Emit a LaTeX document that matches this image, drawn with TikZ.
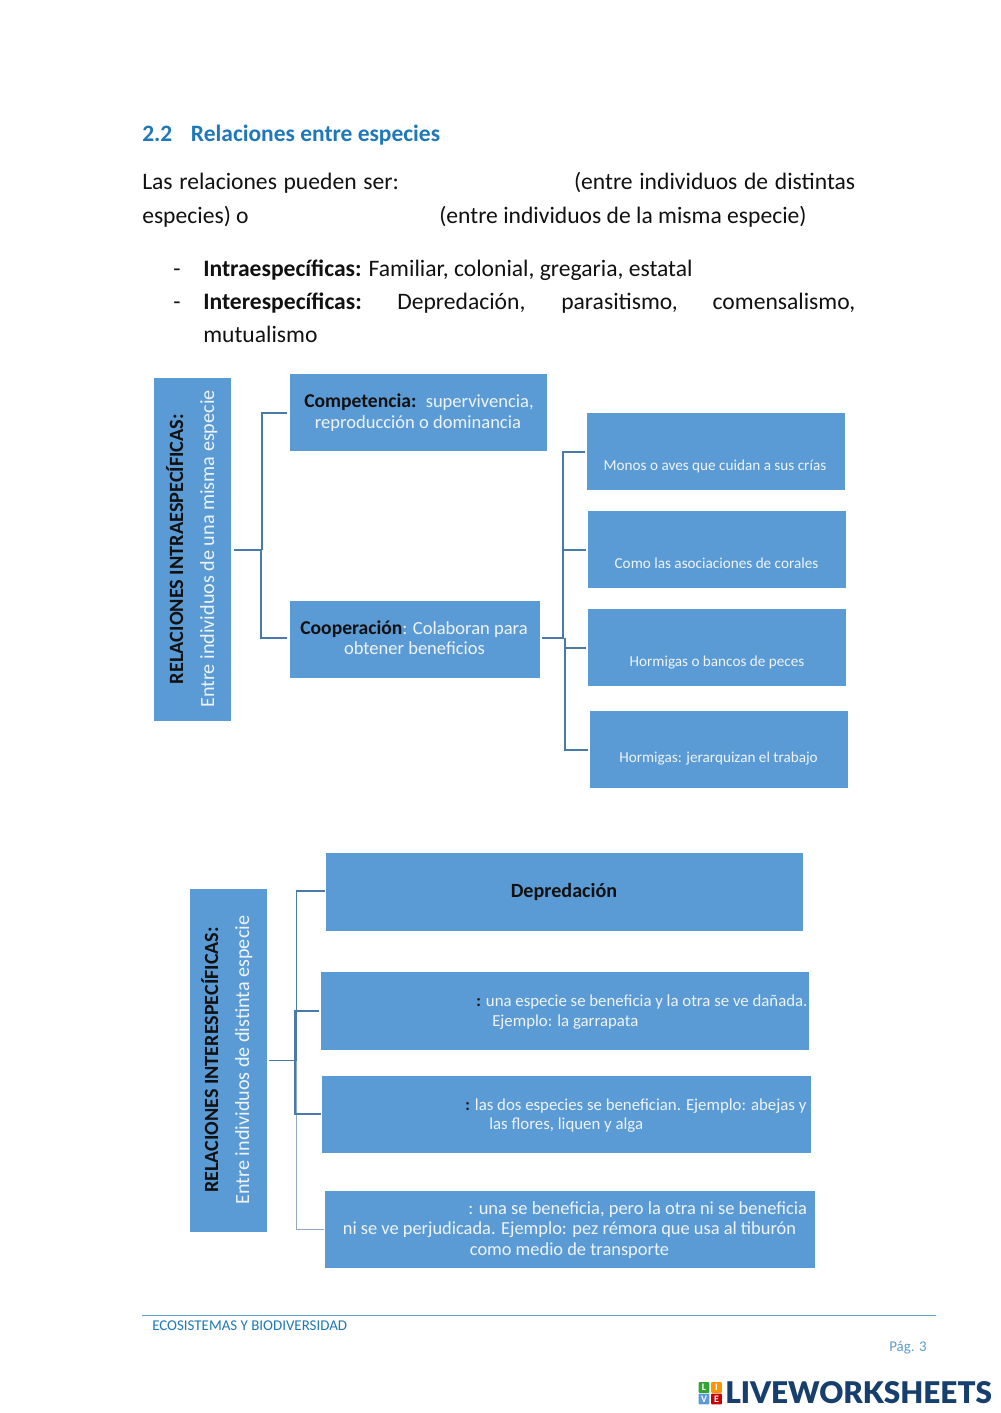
\documentclass[tikz,border=0pt]{standalone}
\usepackage{fontspec}
\setmainfont{Carlito}
\usetikzlibrary{fit}
\definecolor{boxblue}{HTML}{5B9BD5}
\definecolor{headblue}{HTML}{1F78B8}
\definecolor{linkblue}{HTML}{4A7BA8}
\definecolor{linklight}{HTML}{8FA9C4}
\definecolor{footblue}{HTML}{5E9CC9}
\definecolor{logoblue}{HTML}{163F6E}
\definecolor{boxtext}{HTML}{EEF4FA}
\definecolor{inktext}{HTML}{111111}
\newcommand{\fs}[1]{\fontsize{#1}{#1}\selectfont}
\tikzset{
  x=0.75pt,y=-0.75pt,
  bx/.style={fill=boxblue,draw=none,inner sep=0pt},
  link/.style={draw=linkblue,line width=1.5pt},
  linkthin/.style={draw=linklight,line width=1pt},
  bodytxt/.style={anchor=base west,inner sep=0pt,text=inktext,font=\fs{17.7}},
  boxtxt/.style={anchor=base,inner sep=0pt,text=boxtext,font=\fs{13.9}},
  smalltxt/.style={anchor=base,inner sep=0pt,text=boxtext,font=\fs{11.4}},
  midtxt/.style={anchor=base west,inner sep=0pt,text=boxtext,font=\fs{12.6}},
  vtxt/.style={anchor=base,inner sep=0pt,rotate=90,font=\fs{15.1}},
  logosq/.style={inner sep=0pt,minimum size=8.2pt,text=white,font=\fs{7.5}\bfseries,rounded corners=0.8pt},
}
\begin{document}
\begin{tikzpicture}
\useasboundingbox[fill=white] (0,0) rectangle (1000,1413);
% heading and body
\node[anchor=base west,inner sep=0pt,text=headblue,font=\fs{17.6}\bfseries] (head) at (142,141.7) {2.2\hspace{14pt}Relaciones entre especies};
\node[bodytxt] (t1) at (142,189.7) {\spaceskip=5pt Las relaciones pueden ser:};
\node[bodytxt,anchor=base east] (t2) at (855.5,189.7) {\spaceskip=5pt (entre individuos de distintas};
\node[bodytxt] (t3) at (142,223.7) {especies) o};
\node[bodytxt] (t4) at (439,223.7) {(entre individuos de la misma especie)};
\node[bodytxt] (d1) at (173,276.7) {-};
\node[bodytxt] (t5) at (203,276.7) {\textbf{Intraespecíficas:} Familiar, colonial, gregaria, estatal};
\node[bodytxt] (d2) at (173,309.7) {-};
\node[bodytxt] (t6) at (203,309.7) {\textbf{Interespecíficas:}};
\node[bodytxt] (t7) at (397,309.7) {Depredación,};
\node[bodytxt] (t8) at (561,309.7) {parasitismo,};
\node[bodytxt,anchor=base east] (t9) at (855.5,309.7) {comensalismo,};
\node[bodytxt] (t10) at (203,342.7) {mutualismo};
% first chart
\node[bx,fit={(154,378)(231,721)}] (intra) {};
\node[bx,fit={(290,374)(547,451)}] (comp) {};
\node[bx,fit={(290,601)(540,678)}] (coop) {};
\node[bx,fit={(587,413)(845,490)}] (monos) {};
\node[bx,fit={(588,511)(846,588)}] (como) {};
\node[bx,fit={(588,609)(846,686)}] (horm) {};
\node[bx,fit={(590,711)(848,788)}] (jer) {};
\node[vtxt,text=inktext,font=\fs{15.2}\bfseries] (intraA) at (183,549) {RELACIONES INTRAESPECÍFICAS:};
\node[vtxt,text=boxtext] (intraB) at (214,549) {Entre individuos de una misma especie};
\node[boxtxt] (compA) at (419,407.5) {\textcolor{inktext}{\fs{14.7}\textbf{Competencia:}}\hspace{7pt}supervivencia,};
\node[boxtxt] (compB) at (418,428.5) {reproducción o dominancia};
\node[boxtxt] (coopA) at (414,634.5) {\textcolor{inktext}{\fs{14.7}\textbf{Cooperación}}: Colaboran para};
\node[boxtxt] (coopB) at (414.5,654.5) {obtener beneficios};
\node[smalltxt] (monosT) at (715,470) {Monos o aves que cuidan a sus crías};
\node[smalltxt] (comoT) at (716.5,568) {Como las asociaciones de corales};
\node[smalltxt] (hormT) at (717,666) {Hormigas o bancos de peces};
\node[smalltxt] (jerT) at (718.5,762) {Hormigas: jerarquizan el trabajo};
% connectors, first chart
\draw[link] ([xshift=2.2pt]intra.east) -- ++(20.5pt,0) coordinate (j1);
\draw[link] ([xshift=-2pt]comp.west) -| ([xshift=0.4pt]j1);
\draw[link] ([xshift=-2pt,yshift=1.1pt]coop.west) -| ([xshift=-0.4pt]j1);
\coordinate (j2) at ([xshift=17.6pt,yshift=1.1pt]coop.east);
\draw[link] ([xshift=1pt,yshift=1.1pt]coop.east) -- (j2);
\draw[link] ([xshift=-1.5pt]monos.west) -| ([xshift=-0.5pt]j2);
\draw[link] ([xshift=-1.5pt]como.west) -| ([xshift=-0.5pt]j2);
\draw[link] ([xshift=-1.5pt]horm.west) -| ([xshift=0.7pt]j2);
\draw[link] ([xshift=-1.5pt]jer.west) -| ([xshift=0.7pt]j2);
% second chart
\node[bx,fit={(190,889)(267,1232)}] (inter) {};
\node[bx,fit={(326,853)(803,931)}] (dep) {};
\node[bx,fit={(321,972)(809,1050)}] (par) {};
\node[bx,fit={(322,1076)(811,1153)}] (mut) {};
\node[bx,fit={(325,1191)(815,1268)}] (com) {};
\node[vtxt,text=inktext,font=\fs{15.1}\bfseries] (interA) at (218,1060) {RELACIONES INTERESPECÍFICAS:};
\node[vtxt,text=boxtext] (interB) at (249,1060) {Entre individuos de distinta especie};
\node[anchor=base,inner sep=0pt,text=inktext,font=\fs{15.1}\bfseries] (depT) at (564,897) {Depredación};
\node[midtxt] (parA) at (476,1006.5) {\textcolor{inktext}{\textbf{:}} una especie se beneficia y la otra se ve dañada.};
\node[midtxt] (parB) at (492,1026.5) {Ejemplo: la garrapata};
\node[midtxt] (mutA) at (465,1110.5) {\textcolor{inktext}{\textbf{:}} las dos especies se benefician. Ejemplo: abejas y};
\node[midtxt] (mutB) at (489,1129.5) {las flores, liquen y alga};
\node[midtxt,font=\fs{13.85}] (comA) at (468,1214) {: una se beneficia, pero la otra ni se beneficia};
\node[boxtxt,font=\fs{13.8}] (comB) at (569.5,1234) {ni se ve perjudicada. Ejemplo: pez rémora que usa al tiburón};
\node[boxtxt,font=\fs{13.8}] (comC) at (569.5,1255) {como medio de transporte};
% connectors, second chart
\coordinate (j3) at ([xshift=22pt]inter.east);
\draw[link,line width=1.2pt] ([xshift=1.5pt]inter.east) -- (j3);
\draw[link,line width=1.1pt] ([xshift=-0.5pt,yshift=0.6pt]dep.west) -| (j3);
\draw[linkthin] ([xshift=-0.5pt]com.west) -| (j3);
\draw[link] ([xshift=-1pt]par.west) -| ([xshift=-1.4pt]j3);
\draw[link] ([xshift=-0.5pt,yshift=0.6pt]mut.west) -| ([xshift=-1.4pt]j3);
% footer
\coordinate (fl) at (142,1315.5);
\coordinate (fr) at (936,1315.5);
\draw[draw=footblue,line width=0.9pt] (fl) -- (fr);
\node[anchor=base west,inner sep=0pt,text=headblue,font=\fs{11.2}] (foot) at (152,1330) {ECOSISTEMAS Y BIODIVERSIDAD};
\node[anchor=base east,inner sep=0pt,text=footblue,font=\fs{11.2}] (pag) at (927,1351) {Pág. 3};
% logo
\node[logosq,fill=green!55!black!80] (lg1) at (704,1387.5) {L};
\node[logosq,fill=orange!85!yellow] (lg2) at (716.5,1387.5) {I};
\node[logosq,fill=boxblue] (lg3) at (704,1399) {V};
\node[logosq,fill=red!80!black] (lg4) at (716.5,1399) {E};
\node[anchor=base west,inner sep=0pt,text=logoblue] (lg) at (725,1403.5) {\resizebox{200pt}{16.5pt}{\fontspec{Lato Black}\fs{24}LIVEWORKSHEETS}};
\end{tikzpicture}
\end{document}
